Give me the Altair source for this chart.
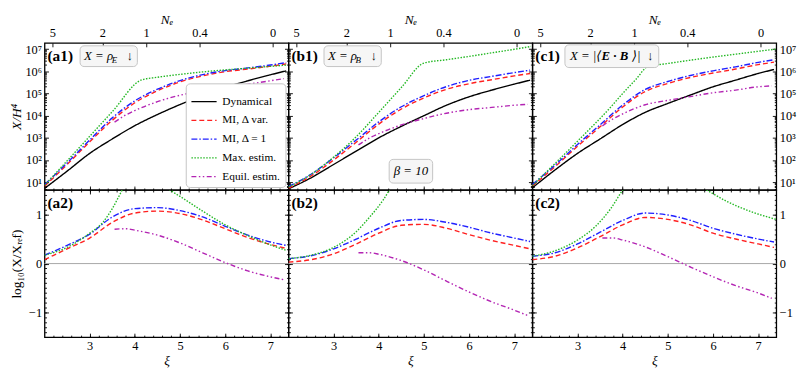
import math
import altair as alt
import pandas as pd

FONT = "Liberation Serif, DejaVu Serif, serif"

SERIES = ["Dynamical", "MI, Δ var.", "MI, Δ = 1", "Max. estim.", "Equil. estim."]
COLORS = ["#000000", "#ff2020", "#2020ff", "#24b824", "#b324b3"]
DASHES = [[1, 0], [5, 3], [6, 2, 1.5, 2], [1.5, 1.5], [5, 2.5, 1.5, 2.5, 1.5, 2.5]]

XI_DOMAIN = [2.0, 7.4]
TOP_DOMAIN = [0.65, 7.28]
BOT_DOMAIN = [-1.5, 1.5]

# x grids (xi)
XI = [2.0, 2.5, 3.0, 3.5, 4.0, 4.5, 5.0, 5.5, 6.0, 6.5, 7.0, 7.35]
XI_EQ = [3.55, 3.8, 4.0, 4.5, 5.0, 5.5, 6.0, 6.5, 7.0, 7.3]

# ---- panel a : X = rho_E  (log10 values) ----
A1_DYN = [0.72, 1.5, 2.3, 2.95, 3.55, 4.05, 4.5, 4.9, 5.27, 5.57, 5.84, 6.02]
A1_MIVAR = [0.82, 1.8, 2.82, 3.79, 4.58, 5.12, 5.52, 5.79, 5.98, 6.1, 6.23, 6.33]
A1_MI1 = [0.89, 1.87, 2.9, 3.9, 4.67, 5.19, 5.58, 5.85, 6.03, 6.15, 6.28, 6.39]
A1_EQ = [3.71, 4.03, 4.23, 4.63, 4.92, 5.12, 5.29, 5.42, 5.57, 5.67]
A1_MAX_XI = [2.0, 3.0, 3.5, 4.15, 4.5, 5.0, 5.5, 6.0, 6.5, 7.0, 7.35]
A1_MAX = [0.86, 3.07, 4.18, 5.61, 5.73, 5.86, 5.97, 6.06, 6.14, 6.22, 6.28]
A2_MIVAR = [0.08, 0.3, 0.52, 0.84, 1.03, 1.07, 1.02, 0.89, 0.71, 0.53, 0.39, 0.31]
A2_MI1 = [0.17, 0.37, 0.6, 0.95, 1.12, 1.14, 1.08, 0.95, 0.76, 0.58, 0.44, 0.37]
A2_EQ = [0.7, 0.71, 0.68, 0.58, 0.42, 0.22, 0.02, -0.15, -0.27, -0.33]
A2_MAX_XI = [2.0, 2.5, 3.0, 3.3, 3.5, 3.75, 3.95, 4.15, 4.5, 4.78, 5.0, 5.5, 6.0, 6.5, 7.0, 7.35]
A2_MAX = [0.17, 0.33, 0.62, 0.85, 1.12, 1.55, 1.85, 2.05, 1.75, 1.5, 1.37, 1.07, 0.79, 0.57, 0.38, 0.27]

# ---- panel b : X = rho_B ----
B1_DYN = [0.7, 1.2, 1.8, 2.4, 3.0, 3.52, 4.0, 4.47, 4.85, 5.15, 5.42, 5.6]
B1_MIVAR = [0.73, 1.28, 2.0, 2.8, 3.62, 4.3, 4.8, 5.19, 5.44, 5.62, 5.79, 5.9]
B1_MI1 = [0.8, 1.36, 2.1, 2.9, 3.72, 4.4, 4.9, 5.31, 5.59, 5.77, 5.94, 6.05]
B1_EQ = [2.68, 3.0, 3.19, 3.58, 3.87, 4.11, 4.27, 4.37, 4.47, 4.51]
B1_MAX_XI = [2.0, 2.5, 3.0, 3.5, 4.0, 4.5, 5.0, 5.5, 6.0, 6.5, 7.0, 7.37]
B1_MAX = [0.78, 1.35, 2.13, 3.05, 4.15, 5.27, 6.37, 6.52, 6.67, 6.83, 6.99, 7.12]
B2_MIVAR = [0.03, 0.08, 0.2, 0.4, 0.62, 0.78, 0.8, 0.72, 0.59, 0.47, 0.37, 0.3]
B2_MI1 = [0.1, 0.16, 0.3, 0.5, 0.72, 0.88, 0.9, 0.84, 0.74, 0.62, 0.52, 0.45]
B2_EQ = [0.22, 0.22, 0.19, 0.06, -0.13, -0.36, -0.58, -0.78, -0.95, -1.06]
B2_MAX_XI = [2.0, 2.5, 3.0, 3.5, 3.8, 4.1, 4.3, 4.6]
B2_MAX = [0.1, 0.17, 0.33, 0.65, 0.95, 1.3, 1.6, 2.0]

# ---- panel c : X = |<E.B>| ----
C1_DYN = [0.75, 1.55, 2.3, 2.95, 3.6, 4.15, 4.55, 4.93, 5.3, 5.6, 5.9, 6.08]
C1_MIVAR = [0.83, 1.7, 2.62, 3.5, 4.39, 5.09, 5.45, 5.72, 5.92, 6.1, 6.3, 6.41]
C1_MI1 = [0.9, 1.77, 2.7, 3.59, 4.48, 5.18, 5.54, 5.81, 6.02, 6.2, 6.4, 6.52]
C1_EQ = [3.54, 3.87, 4.08, 4.49, 4.69, 4.86, 5.03, 5.15, 5.3, 5.34]
C1_MAX_XI = [2.0, 3.0, 3.75, 4.0, 4.3, 4.55, 5.0, 5.5, 6.0, 6.5, 7.0, 7.4]
C1_MAX = [0.85, 2.85, 4.42, 5.0, 5.65, 6.2, 6.35, 6.5, 6.64, 6.77, 6.9, 7.0]
C2_MIVAR = [0.08, 0.15, 0.32, 0.55, 0.79, 0.94, 0.9, 0.79, 0.62, 0.5, 0.4, 0.33]
C2_MI1 = [0.15, 0.22, 0.4, 0.64, 0.88, 1.03, 0.99, 0.88, 0.72, 0.6, 0.5, 0.44]
C2_EQ = [0.52, 0.52, 0.48, 0.34, 0.14, -0.07, -0.27, -0.45, -0.6, -0.71]
C2_MAX_XI = [2.0, 2.5, 3.0, 3.4, 3.75, 4.0, 4.3, 4.6, 5.0, 5.5, 5.86, 6.3, 6.9, 7.4]
C2_MAX = [0.15, 0.26, 0.48, 0.76, 1.14, 1.5, 1.85, 2.0, 1.9, 1.7, 1.5, 1.27, 1.04, 0.9]

# top axis (N_e) labels and their xi positions
NE_POS = [2.17, 3.28, 4.25, 5.43, 7.05]
NE_LABELS = ["5", "2", "1", "0.4", "0"]

# axis tick values
XI_MAJOR = [3, 4, 5, 6, 7]
XI_MINOR = [round(2.2 + 0.2 * i, 1) for i in range(26)]
Y_TOP_MAJOR = [1, 2, 3, 4, 5, 6, 7]
Y_TOP_MINOR = [round(n + math.log10(k), 4) for n in range(0, 8) for k in range(2, 10)
               if TOP_DOMAIN[0] < n + math.log10(k) < TOP_DOMAIN[1]]
Y_BOT_MAJOR = [-1, 0, 1]
Y_BOT_MINOR = [round(-1.4 + 0.1 * i, 2) for i in range(29)]

PANELS = {
    "a1": [(SERIES[0], XI, A1_DYN), (SERIES[1], XI, A1_MIVAR), (SERIES[2], XI, A1_MI1),
           (SERIES[3], A1_MAX_XI, A1_MAX), (SERIES[4], XI_EQ, A1_EQ)],
    "b1": [(SERIES[0], XI, B1_DYN), (SERIES[1], XI, B1_MIVAR), (SERIES[2], XI, B1_MI1),
           (SERIES[3], B1_MAX_XI, B1_MAX), (SERIES[4], XI_EQ, B1_EQ)],
    "c1": [(SERIES[0], XI, C1_DYN), (SERIES[1], XI, C1_MIVAR), (SERIES[2], XI, C1_MI1),
           (SERIES[3], C1_MAX_XI, C1_MAX), (SERIES[4], XI_EQ, C1_EQ)],
    "a2": [(SERIES[1], XI, A2_MIVAR), (SERIES[2], XI, A2_MI1),
           (SERIES[3], A2_MAX_XI, A2_MAX), (SERIES[4], XI_EQ, A2_EQ)],
    "b2": [(SERIES[1], XI, B2_MIVAR), (SERIES[2], XI, B2_MI1),
           (SERIES[3], B2_MAX_XI, B2_MAX), (SERIES[4], XI_EQ, B2_EQ)],
    "c2": [(SERIES[1], XI, C2_MIVAR), (SERIES[2], XI, C2_MI1),
           (SERIES[3], C2_MAX_XI, C2_MAX), (SERIES[4], XI_EQ, C2_EQ)],
}

records = []
for key, lst in PANELS.items():
    for name, xs, vs in lst:
        for x, v in zip(xs, vs):
            records.append({"panel": key, "series": name, "xi": x, "v": v})
df = pd.DataFrame(records)

W, H = 247, 149
TMAJ = {"expr": "-4"}
TMIN = {"expr": "-2"}
SUP = "['⁰','¹','²','³','⁴','⁵','⁶','⁷']"
TOP_LABEL_EXPR = "'10' + " + SUP + "[datum.value]"
NE_EXPR = "[" + ",".join("'%s'" % s for s in NE_LABELS) + "][indexof([" + \
    ",".join(str(p) for p in NE_POS) + "], datum.value)]"


def ax(**kw):
    d = dict(grid=False, domain=False, tickColor="black", tickWidth=0.9,
             labelFont=FONT, labelFontSize=12.5, labelColor="black",
             labelFlush=False, labelOverlap=False, labelPadding=7,
             titleFont=FONT, titleFontSize=13.5, titleColor="black",
             titleFontWeight="normal")
    d.update(kw)
    return alt.Axis(**d)


def txt(s, x, y, size=13, style="italic", weight="normal", align="left"):
    return alt.Chart(pd.DataFrame({"t": [s]})).mark_text(
        font=FONT, fontSize=size, fontStyle=style, fontWeight=weight,
        align=align, baseline="middle", color="black"
    ).encode(text="t:N", x=alt.value(x), y=alt.value(y))


def box(x1, x2, y1, y2):
    return alt.Chart(pd.DataFrame({"t": [0]})).mark_rect(
        fill="#f6f6f6", stroke="#c4c4c4", strokeWidth=1, cornerRadius=4
    ).encode(x=alt.value(x1), x2=alt.value(x2), y=alt.value(y1), y2=alt.value(y2))


def panel(key, col, row):
    top = row == 0
    d = df[df.panel == key]
    xsc = alt.Scale(domain=XI_DOMAIN, nice=False, zero=False)
    ysc = alt.Scale(domain=TOP_DOMAIN if top else BOT_DOMAIN, nice=False, zero=False)
    ymaj = Y_TOP_MAJOR if top else Y_BOT_MAJOR
    ymin = Y_TOP_MINOR if top else Y_BOT_MINOR

    def X(a):
        return alt.X("xi:Q", scale=xsc, axis=a)

    def Y(a):
        return alt.Y("v:Q", scale=ysc, axis=a)

    lk = dict(orient="left", values=ymaj, tickSize=TMAJ, labels=(col == 0))
    if col == 0:
        if top:
            lk.update(labelExpr=TOP_LABEL_EXPR, title="X/H⁴", titleFontStyle="italic")
        else:
            lk.update(title="log₁₀(X/Xᵣₑf)")
        lk.update(titleAngle=270, titleX=-28, titleBaseline="middle", titleAlign="center")
    else:
        lk.update(title=None)

    bk = dict(orient="bottom", values=XI_MAJOR, tickSize=TMAJ, labels=(not top))
    if top:
        bk.update(title=None)
    else:
        bk.update(title="ξ", titleFontStyle="italic", titlePadding=1)

    if key == "a1":
        leg = alt.Legend(orient="bottom-right", offset=3, title=None,
                         labelFont=FONT, labelFontSize=11.5, labelColor="black",
                         symbolType="stroke", symbolSize=650, symbolStrokeWidth=1.4,
                         fillColor="white", strokeColor="#c4c4c4", cornerRadius=4,
                         padding=5, rowPadding={"expr": "-9"}, labelOffset=5)
    else:
        leg = None

    lines = alt.Chart(d).mark_line(clip=True, strokeWidth=1.4, interpolate="monotone").encode(
        x=X(ax(**bk)),
        y=Y(ax(**lk)),
        color=alt.Color("series:N", scale=alt.Scale(domain=SERIES, range=COLORS), legend=leg),
        strokeDash=alt.StrokeDash("series:N", scale=alt.Scale(domain=SERIES, range=DASHES), legend=leg),
    )

    ghost = alt.Chart(d).mark_point(opacity=0, clip=True)
    minor_bl = ghost.encode(
        x=X(ax(orient="bottom", values=XI_MINOR, tickSize=TMIN, labels=False, title=None)),
        y=Y(ax(orient="left", values=ymin, tickSize=TMIN, labels=False, title=None)),
    )
    if top:
        tx = ax(orient="top", values=NE_POS, tickSize=TMAJ, labelExpr=NE_EXPR,
                title="Nₑ", titleFontStyle="italic", titlePadding=1)
    else:
        tx = ax(orient="top", values=XI_MAJOR, tickSize=TMAJ, labels=False, title=None)
    rk = dict(orient="right", values=ymaj, tickSize=TMAJ, labels=(col == 2), title=None)
    if col == 2 and top:
        rk["labelExpr"] = TOP_LABEL_EXPR
    major_tr = ghost.encode(x=X(tx), y=Y(ax(**rk)))
    if top:
        mx = None
    else:
        mx = ax(orient="top", values=XI_MINOR, tickSize=TMIN, labels=False, title=None)
    minor_tr = ghost.encode(
        x=X(mx),
        y=Y(ax(orient="right", values=ymin, tickSize=TMIN, labels=False, title=None)),
    )

    layers = []
    if not top:
        layers.append(alt.Chart(pd.DataFrame({"z": [0.0]})).mark_rule(
            color="#a8a8a8", strokeWidth=1).encode(y=alt.Y("z:Q", scale=ysc, axis=None)))
    layers += [minor_bl, major_tr, minor_tr, lines]

    layers.append(txt("(" + key + ")", 3, 13, size=15.5, style="normal", weight="bold"))
    if key in ("a1", "b1"):
        sub = "E" if key == "a1" else "B"
        layers += [box(36, 94, 3, 24),
                   txt("X = ρ", 40, 13.5),
                   txt(sub, 68, 17, size=9),
                   txt("↓", 83, 13.5, style="normal")]
    if key == "b1":
        layers += [box(102, 146, 118, 142), txt("β = 10", 124, 130, align="center")]
    if key == "c1":
        layers += [box(33, 128, 2, 25),
                   txt("X = |⟨", 38, 13.5),
                   txt("E · B", 70, 13.5, weight="bold"),
                   txt("⟩|", 101, 13.5),
                   txt("↓", 116, 13.5, style="normal")]

    return alt.layer(*layers).resolve_axis(x="independent", y="independent").properties(
        width=W, height=H)


chart = alt.concat(
    panel("a1", 0, 0), panel("b1", 1, 0), panel("c1", 2, 0),
    panel("a2", 0, 1), panel("b2", 1, 1), panel("c2", 2, 1),
    columns=3, spacing=0, bounds="flush"
).resolve_legend(
    color="independent", strokeDash="independent"
).properties(
    padding={"left": 1, "top": 1, "right": 1, "bottom": 1}
).configure_view(stroke="black", strokeWidth=1.3)

chart.save("out.html", embed_options={"renderer": "svg", "actions": False})
